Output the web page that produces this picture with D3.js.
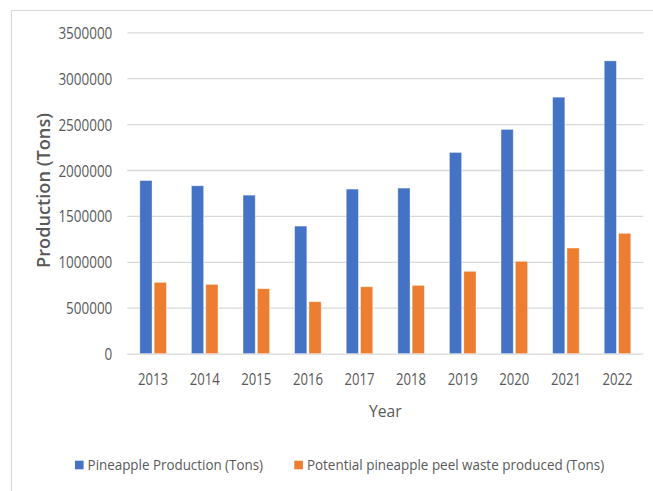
<!DOCTYPE html>
<html>
<head>
<meta charset="utf-8">
<script src="https://cdn.jsdelivr.net/npm/d3@7"></script>
<style>
  html, body { margin: 0; padding: 0; background: #ffffff; }
  svg { display: block; }
  text { font-family: "Open Sans", "Noto Sans", "Liberation Sans", sans-serif; fill: #595959; }
</style>
</head>
<body>
<svg id="chart" width="653" height="491"></svg>
<script>
// Annual pineapple production and the peel waste it could yield (tons)
const years = ["2013", "2014", "2015", "2016", "2017", "2018", "2019", "2020", "2021", "2022"];
const production = [1885000, 1828000, 1726000, 1389000, 1792000, 1803000, 2191000, 2442000, 2793000, 3189000];
const peelWaste = [776000, 754000, 707000, 565000, 728000, 743000, 896000, 1005000, 1150000, 1310000];
const yTicks = [0, 500000, 1000000, 1500000, 2000000, 2500000, 3000000, 3500000];
const seriesNames = ["Pineapple Production (Tons)", "Potential pineapple peel waste produced (Tons)"];
const seriesColors = ["#4472C4", "#ED7D31"];

const svg = d3.select("#chart");
const W = 653, H = 491;
const plot = { left: 127.3, right: 643.3, top: 32.3, bottom: 353.6 };

// Light frame around the chart area (top and left edges fall inside the view)
svg.append("path")
  .attr("d", `M11.5,${H} L11.5,10.5 L${W},10.5`)
  .attr("fill", "none")
  .attr("stroke", "#d9d9d9")
  .attr("stroke-width", 1.2);

const x0 = d3.scaleBand()
  .domain(years)
  .range([plot.left, plot.right])
  .paddingInner(0.486)
  .paddingOuter(0.243);

const x1 = d3.scaleBand()
  .domain([0, 1])
  .range([0, x0.bandwidth()])
  .paddingInner(0.15);

const y = d3.scaleLinear()
  .domain([0, 3500000])
  .range([plot.bottom, plot.top]);

// Horizontal gridlines with value labels
const yAxis = d3.axisLeft(y)
  .tickValues(yTicks)
  .tickFormat(d3.format("d"))
  .tickSize(-(plot.right - plot.left))
  .tickPadding(15);

const gy = svg.append("g")
  .attr("transform", `translate(${plot.left},0)`)
  .call(yAxis);
gy.select(".domain").remove();
gy.selectAll(".tick line")
  .attr("stroke", "#d9d9d9")
  .attr("stroke-width", 1.3);
gy.selectAll(".tick text")
  .attr("dy", null)
  .attr("y", 6)
  .style("font-size", "16.6px")
  .attr("fill", "#595959")
  .attr("textLength", d => String(d).length * 7.7)
  .attr("lengthAdjust", "spacingAndGlyphs");

// Year labels below the baseline
const xAxis = d3.axisBottom(x0).tickSize(0).tickPadding(0);
const gx = svg.append("g")
  .attr("transform", `translate(0,${plot.bottom})`)
  .call(xAxis);
gx.select(".domain").remove();
gx.selectAll(".tick text")
  .attr("dy", null)
  .attr("y", 31.4)
  .style("font-size", "16.6px")
  .attr("fill", "#595959")
  .attr("textLength", 30)
  .attr("lengthAdjust", "spacingAndGlyphs");

// Grouped bars
const groups = svg.append("g")
  .selectAll("g")
  .data(years.map((yr, i) => ({ yr, vals: [production[i], peelWaste[i]] })))
  .join("g")
  .attr("transform", d => `translate(${x0(d.yr)},0)`);

groups.selectAll("rect")
  .data(d => d.vals.map((v, k) => ({ v, k })))
  .join("rect")
  .attr("x", d => x1(d.k))
  .attr("width", x1.bandwidth())
  .attr("y", d => y(d.v))
  .attr("height", d => y(0) - y(d.v))
  .attr("fill", d => seriesColors[d.k])
  .attr("stroke", "#ffffff")
  .attr("stroke-opacity", 0.45)
  .attr("stroke-width", 0.8);

// Axis titles
svg.append("text")
  .attr("x", (plot.left + plot.right) / 2)
  .attr("y", 417.3)
  .attr("text-anchor", "middle")
  .style("font-size", "16.8px")
  .attr("textLength", 32.7)
  .attr("lengthAdjust", "spacingAndGlyphs")
  .text("Year");

svg.append("text")
  .attr("transform", "translate(50,190.5) rotate(-90)")
  .attr("text-anchor", "middle")
  .style("font-size", "17.4px")
  .style("font-weight", "600")
  .attr("textLength", 155)
  .attr("lengthAdjust", "spacingAndGlyphs")
  .text("Production (Tons)");

// Legend
const legendItems = [
  { name: seriesNames[0], color: seriesColors[0], x: 75, len: 175.4 },
  { name: seriesNames[1], color: seriesColors[1], x: 294.3, len: 297.3 }
];
const legend = svg.append("g");
legendItems.forEach(item => {
  legend.append("rect")
    .attr("x", item.x)
    .attr("y", 460.7)
    .attr("width", 8.6)
    .attr("height", 8.6)
    .attr("fill", item.color);
  legend.append("text")
    .attr("x", item.x + 12.6)
    .attr("y", 469.5)
    .style("font-size", "14.4px")
    .attr("textLength", item.len)
    .attr("lengthAdjust", "spacingAndGlyphs")
    .text(item.name);
});
</script>
</body>
</html>
